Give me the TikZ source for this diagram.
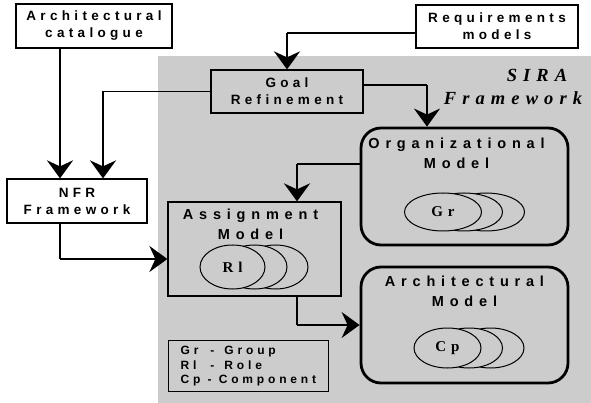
\documentclass[tikz,border=0pt]{standalone}
\usepackage{fontspec}
\setmainfont{Liberation Serif}
\newfontfamily\boxfont[LetterSpace=32]{Liberation Sans}
\newfontfamily\headfont[LetterSpace=40]{Liberation Sans}
\newfontfamily\sirafont[LetterSpace=33]{Liberation Serif}
\usetikzlibrary{arrows.meta,positioning,shapes.geometric}
\definecolor{siragray}{gray}{0.8}
\tikzset{
  box/.style={draw, line width=1.2pt, fill=white, inner sep=0pt, align=center,
    font=\boxfont\bfseries\fontsize{13.5}{17}\selectfont},
  inbox/.style={box, fill=siragray},
  model/.style={draw, line width=2.8pt, rounded corners=20pt, fill=siragray},
  head/.style={align=center, inner sep=2pt, font=\headfont\bfseries\fontsize{14.5}{20}\selectfont},
  role/.style={draw, ellipse, line width=1pt, fill=siragray, inner sep=0pt,
    font=\sirafont\bfseries\fontsize{15}{16}\selectfont},
  link/.style={line width=1.2pt},
  arrow/.style={line width=2.6pt, -{Stealth[length=18pt,width=26pt,inset=6pt]}},
}

\begin{document}
\begin{tikzpicture}[x=1pt,y=-1pt]
    \useasboundingbox (0,0) rectangle (591,403);
    % framework area
    \fill[siragray] (158,56) rectangle (591,403);
    \node[font=\sirafont\bfseries\itshape\fontsize{18.5}{22}\selectfont, anchor=base] (sira) at (537,82) {SIRA};
    \node[font=\sirafont\bfseries\itshape\fontsize{18.5}{22}\selectfont, anchor=base] (sirafw) at (513,105) {Framework};

    % input boxes
    \node[box, minimum width=156, minimum height=44] (cat) at (94,26) {Architectural\\catalogue};
    \node[box, minimum width=162, minimum height=43] (req) at (497,26.5) {Requirements\\models};
    \node[inbox, minimum width=152, minimum height=43] (goal) at (287,91.5) {Goal\\Refinement};
    \node[box, minimum width=140, minimum height=44] (nfr) at (77,201) {NFR\\Framework};

    % models
    \node[inbox, minimum width=173, minimum height=94] (assign) at (254.5,249) {};
    \node[head, below=5pt of assign.north, xshift=-4pt] (assigntitle) {Assignment\\Model};
    \node[model, minimum width=207, minimum height=117] (org) at (464.5,186.5) {};
    \node[head, below=9pt of org.north, xshift=-8pt] (orgtitle) {Organizational\\Model};
    \node[model, minimum width=207, minimum height=116] (arch) at (464.5,325) {};
    \node[head, below=8pt of arch.north] (archtitle) {Architectural\\Model};

    % ellipses
    \node[role, minimum width=77, minimum height=38] (gr3) at (486,212) {};
    \node[role, minimum width=77, minimum height=38] (gr2) at (464,212) {};
    \node[role, minimum width=77, minimum height=38] (gr) at (443,212) {Gr};
    \node[role, minimum width=65, minimum height=44] (rl3) at (275.5,267) {};
    \node[role, minimum width=65, minimum height=44] (rl2) at (254.5,267) {};
    \node[role, minimum width=65, minimum height=44] (rl) at (232.5,267) {Rl};
    \node[role, minimum width=67, minimum height=40] (cp3) at (490.5,348) {};
    \node[role, minimum width=67, minimum height=40] (cp2) at (469,348) {};
    \node[role, minimum width=67, minimum height=40] (cp) at (447.5,348) {Cp};

    % legend
    \node[inbox, anchor=north west, inner xsep=12pt, minimum height=51, align=left,
      font=\boxfont\bfseries\fontsize{12}{14.5}\selectfont] (legend) at (168,340)
      {Gr\hspace{12pt}-\hspace{10pt}Group\\Rl\hspace{14pt}-\hspace{10pt}Role\\Cp - Component};

    % connectors
    \coordinate (c1) at (60,0);
    \draw[arrow] (cat.south -| c1) -- (nfr.north -| c1);
    \coordinate (rq) at (287,33);
    \draw[link] (req.west |- rq) -- (rq);
    \draw[arrow] (rq) -- (goal.north);
    \coordinate (gn) at (103,91.5);
    \draw[link] (goal.west) -- (gn);
    \draw[arrow] (gn) -- (nfr.north -| gn);
    \coordinate (go) at (427,85);
    \draw[link] (goal.east |- go) -- (go);
    \draw[arrow] (go) -- (org.north -| go);
    \coordinate (oa) at (297,164);
    \draw[link] (org.west |- oa) -- (oa);
    \draw[arrow] (oa) -- (assign.north -| oa);
    \coordinate (na) at (60,259);
    \draw[line width=1.8pt] (nfr.south -| na) -- (na);
    \draw[arrow, line width=1.8pt] (na) -- (assign.west |- na);
    \coordinate (aa) at (297,325);
    \draw[line width=1.5pt] (assign.south -| aa) -- (aa);
    \draw[arrow, line width=1.5pt] (aa) -- (arch.west);
\end{tikzpicture}
\end{document}
